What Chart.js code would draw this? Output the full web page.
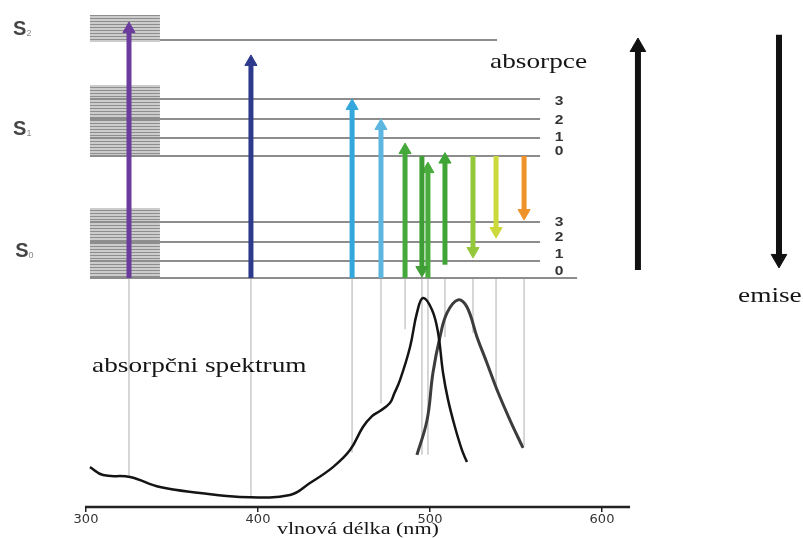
<!DOCTYPE html>
<html>
<head>
<meta charset="utf-8">
<title>Jablonski</title>
<script src="https://cdn.jsdelivr.net/npm/chart.js"></script>
<style>
body{margin:0;background:#fff;}
#wrap{width:803px;height:538px;position:relative;}
</style>
</head>
<body>
<div id="wrap"><canvas id="myChart"></canvas></div>
<script>
'use strict';

// absorpcni a emisni spektrum (nm, relativni intenzita)
let absNm  = [302.3,309.9,325.6,343.0,366.3,389.5,418.6,430.2,443.6,453.5,461.0,466.3,470.9,476.7,479.1,482.6,488.4,492.4,495.9,501.2,504.7,507.6,510.5,514.5,518.6,521.5];
let absVal = [0.190,0.152,0.143,0.095,0.067,0.048,0.057,0.114,0.190,0.271,0.381,0.433,0.457,0.495,0.538,0.605,0.762,0.924,0.995,0.938,0.829,0.638,0.510,0.381,0.271,0.214];
let emNm   = [492.4,498.3,501.7,505.8,509.9,516.3,521.5,527.3,533.1,539.0,546.5,554.1];
let emVal  = [0.248,0.414,0.638,0.810,0.924,0.986,0.952,0.810,0.686,0.557,0.414,0.281];

// energeticke hladiny (libovolne jednotky)
let s0Levels = [0, 0.89, 1.89, 2.95];
let s1Levels = [6.42, 7.37, 8.37, 9.42];
let s2Level = 12.53;
let levelStart = 302.3;
let levelEnd = 564;
let s0ZeroEnd = 585.5;
let s2Start = 343;
let s2End = 539;

// sede bloky u S0, S1, S2
let boxStart = 302.3;
let boxEnd = 343;
let boxTops = [3.68, 10.16, 13.84];
let boxBottoms = [0, 6.37, 12.42];

// prechody (sipky)
let transNm   = [325.0, 395.9, 454.7, 471.5, 485.5, 495.3, 498.8, 508.7, 525.0, 538.4, 554.7];
let transFrom = [0, 0, 0, 0, 0, 6.42, 0, 0.7, 6.42, 6.42, 6.42];
let transTo   = [13.47, 11.74, 9.42, 8.37, 7.1, 0.05, 6.1, 6.6, 1.05, 2.1, 3.05];
let transColors = ['#6b3c9e','#2d3a8c','#33a7dc','#5cb6e0','#45a83a','#3f9e35','#48ab3c','#3fa536','#94c83c','#cbd93a','#f0922a'];
let dropTo    = [-10.47, -11.5, -9.2, -6.6, -2.7, -9.3, -9.3, -3.1, -2.9, -5.9, -8.8];

// velke sipky absorpce / emise
let bigNm = [620.9, 702.9];
let bigFrom = [0.42, 12.8];
let bigTo = [12.63, 0.53];

let xTicks = [300, 350, 400, 450, 500, 550, 600];
let axisFrom = 299.4;
let axisTo = 616.3;

// popisky
let levelNumbers = ['3','2','1','0'];
let s1NumE = [9.26, 8.26, 7.39, 6.63];
let s0NumE = [2.92, 2.11, 1.21, 0.32];
let numNm = 575;
let stateNames = ['S', 'S', 'S'];
let stateSubs = ['2', '1', '0'];
let stateE = [12.79, 7.53, 1.1];
let stateNm = [257.6, 257.6, 258.8];

let pxPerE = 19;
let headR = 7;
let bigHeadR = 9;

let pat = document.createElement('canvas');
pat.width = 4;
pat.height = 3;
let pc = pat.getContext('2d');
pc.fillStyle = '#cccccc';
pc.fillRect(0, 0, 4, 3);
pc.fillStyle = '#8e8e8e';
pc.fillRect(0, 0, 4, 1);
let hatch = pc.createPattern(pat, 'repeat');

let datasets = [];

function lineSet(points, color, width, axis, order){
    return {
        data: points, borderColor: color, borderWidth: width, yAxisID: axis,
        pointRadius: 0, fill: false, clip: false, order: order, tension: 0
    };
}

function arrowSet(nm, from, to, color, width, r){
    let dir = to > from ? 1 : -1;
    let end = to - dir * r / pxPerE;
    return {
        data: [{x: nm, y: from}, {x: nm, y: end}],
        borderColor: color, borderWidth: width, yAxisID: 'e',
        pointRadius: [0, r], pointStyle: 'triangle', pointRotation: dir > 0 ? 0 : 180,
        pointBackgroundColor: color, pointBorderColor: color, pointBorderWidth: 1,
        fill: false, clip: false, order: 1
    };
}

// bloky
for (let i = 0; i < boxTops.length; i++){
    datasets.push({
        data: [{x: boxStart, y: boxTops[i]}, {x: boxEnd, y: boxTops[i]}],
        yAxisID: 'e', borderWidth: 0, borderColor: 'rgba(0,0,0,0)', pointRadius: 0,
        backgroundColor: hatch, fill: '+1', clip: false, order: 6
    });
    datasets.push({
        data: [{x: boxStart, y: boxBottoms[i]}, {x: boxEnd, y: boxBottoms[i]}],
        yAxisID: 'e', borderWidth: 0, borderColor: 'rgba(0,0,0,0)', pointRadius: 0,
        fill: false, clip: false, order: 6
    });
}

// hladiny
for (let i = 0; i < s0Levels.length; i++){
    let end = i === 0 ? s0ZeroEnd : levelEnd;
    datasets.push(lineSet([{x: levelStart, y: s0Levels[i]}, {x: end, y: s0Levels[i]}], '#8d8d8d', 2, 'e', 4));
    datasets.push(lineSet([{x: levelStart, y: s1Levels[i]}, {x: levelEnd, y: s1Levels[i]}], '#8d8d8d', 2, 'e', 4));
}
datasets.push(lineSet([{x: s2Start, y: s2Level}, {x: s2End, y: s2Level}], '#8d8d8d', 2, 'e', 4));

// svisle pomocne cary
for (let i = 0; i < transNm.length; i++){
    datasets.push(lineSet([{x: transNm[i], y: 0}, {x: transNm[i], y: dropTo[i]}], '#cacaca', 1.5, 'e', 5));
}

// spektra
datasets.push(Object.assign(lineSet(absNm.map((v, i) => ({x: v, y: absVal[i]})), '#141414', 2.5, 's', 2), {tension: 0.4}));
datasets.push(Object.assign(lineSet(emNm.map((v, i) => ({x: v, y: emVal[i]})), '#3c3c3c', 3, 's', 2), {tension: 0.4}));

// osa
datasets.push(lineSet([{x: axisFrom, y: 0}, {x: axisTo, y: 0}], '#222', 2.5, 's', 2));

// sipky
for (let i = 0; i < transNm.length; i++){
    datasets.push(arrowSet(transNm[i], transFrom[i], transTo[i], transColors[i], 5, headR));
}
for (let i = 0; i < bigNm.length; i++){
    datasets.push(arrowSet(bigNm[i], bigFrom[i], bigTo[i], '#111', 6, bigHeadR));
}

function stretchText(ctx, txt, x, y, sx){
    ctx.save();
    ctx.translate(x, y);
    ctx.scale(sx, 1);
    ctx.fillText(txt, 0, 0);
    ctx.restore();
}

let textPlugin = {
    id: 'texty',
    afterDatasetsDraw(chart){
        let ctx = chart.ctx;
        let x = chart.scales.x;
        let e = chart.scales.e;
        ctx.save();
        ctx.fillStyle = '#151515';
        ctx.textAlign = 'left';
        ctx.textBaseline = 'alphabetic';
        ctx.font = '21px "Liberation Serif"';
        stretchText(ctx, 'absorpce', x.getPixelForValue(534.9), e.getPixelForValue(11.05), 1.3);
        stretchText(ctx, 'emise', x.getPixelForValue(679.1), e.getPixelForValue(-1.26), 1.3);
        stretchText(ctx, 'absorpčni spektrum', x.getPixelForValue(303.5), e.getPixelForValue(-4.95), 1.3);
        ctx.font = '17px "Liberation Serif"';
        ctx.textAlign = 'center';
        stretchText(ctx, 'vlnová délka (nm)', x.getPixelForValue(458.1), e.getPixelForValue(-13.47), 1.3);

        // cisla hladin
        ctx.font = 'bold 12px "Liberation Sans"';
        ctx.textBaseline = 'middle';
        ctx.fillStyle = '#333';
        for (let i = 0; i < levelNumbers.length; i++){
            stretchText(ctx, levelNumbers[i], x.getPixelForValue(numNm), e.getPixelForValue(s1NumE[i]), 1.3);
            stretchText(ctx, levelNumbers[i], x.getPixelForValue(numNm), e.getPixelForValue(s0NumE[i]), 1.3);
        }

        // S0, S1, S2
        ctx.textAlign = 'left';
        ctx.textBaseline = 'alphabetic';
        for (let i = 0; i < stateNames.length; i++){
            let px = x.getPixelForValue(stateNm[i]);
            let py = e.getPixelForValue(stateE[i]);
            ctx.font = 'bold 20px "Liberation Sans"';
            ctx.fillStyle = '#444';
            ctx.fillText(stateNames[i], px, py);
            let w = ctx.measureText(stateNames[i]).width;
            ctx.font = '9px "Liberation Sans"';
            ctx.fillStyle = '#888';
            ctx.fillText(stateSubs[i], px + w, py + 1);
        }
        ctx.restore();
    }
};

let ctx = document.getElementById('myChart');
let myChart = new Chart(ctx, {
    type: 'line',
    data: { datasets: datasets },
    options: {
        responsive: true,
        maintainAspectRatio: false,
        animation: false,
        events: [],
        layout: { padding: 0, autoPadding: false },
        plugins: { legend: { display: false }, tooltip: { enabled: false }, title: { display: false } },
        scales: {
            x: {
                type: 'linear',
                min: 250,
                max: 716.86,
                afterBuildTicks: s => { s.ticks = xTicks.map(v => ({value: v})); },
                afterFit: s => { s.height = 31; },
                ticks: {
                    callback: v => v % 100 === 0 ? v : '',
                    font: { family: 'DejaVu Sans', size: 13 },
                    color: '#333',
                    padding: 0,
                    maxRotation: 0,
                    autoSkip: false
                },
                grid: {
                    drawOnChartArea: false,
                    tickLength: 5,
                    lineWidth: 1.5,
                    color: c => (c.tick && c.tick.value % 100 === 0) ? '#222' : 'rgba(0,0,0,0)'
                },
                border: { display: false }
            },
            e: { type: 'linear', display: false, min: -12.05, max: 14.63 },
            s: { type: 'linear', display: false, min: 0, max: 2.414 }
        }
    },
    plugins: [textPlugin]
});
</script>
</body>
</html>
